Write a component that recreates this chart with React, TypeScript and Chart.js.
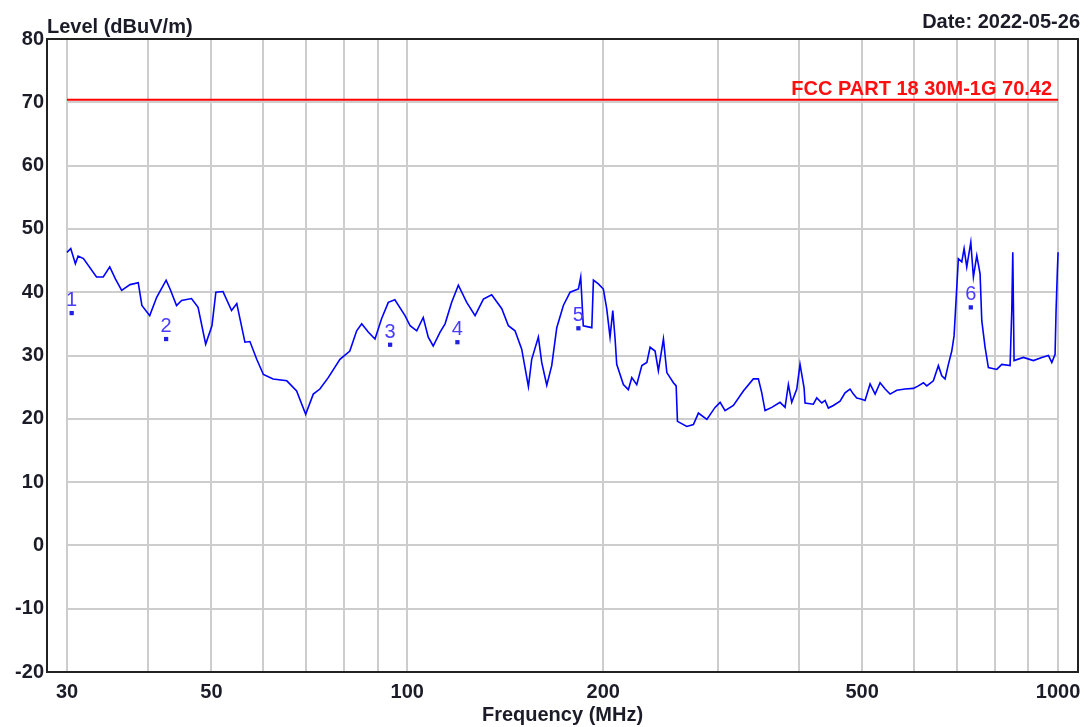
import React, { useEffect, useRef } from 'react';
import { Chart, registerables } from 'chart.js';

Chart.register(...registerables);

const FONT = '"Liberation Sans", Arial, Helvetica, sans-serif';

// Measured trace (frequency in MHz, level in dBuV/m)
const freqMHz = [30, 30.4, 30.9, 31.2, 31.8, 33.3, 34.1, 34.9, 35.6, 36.4, 37.5, 38.6, 39.1, 40.2, 41.2, 42.6, 43.2, 44.2, 45.0, 46.6, 47.7, 49.0, 50.1, 50.8, 52.1, 53.7, 54.7, 56.3, 57.3, 58.7, 60.1, 62.2, 65.3, 67.6, 69.8, 71.7, 73.4, 75.6, 78.8, 81.6, 83.6, 85.1, 87.1, 89.2, 91.3, 93.5, 95.7, 99.2, 101.0, 103.4, 105.8, 107.7, 109.6, 112.3, 114.3, 117.0, 119.8, 123.4, 127.1, 130.9, 134.8, 139.7, 143.0, 146.4, 149.9, 153.5, 155.3, 159.0, 160.9, 163.8, 166.7, 169.7, 173.7, 177.9, 183.2, 184.7, 186.4, 192.1, 193.2, 196.6, 200.1, 202.5, 204.9, 206.9, 208.6, 209.8, 214.8, 218.6, 221.3, 225.2, 229.3, 233.4, 236.1, 240.3, 243.1, 247.5, 250.5, 256.4, 258.9, 260.1, 268.8, 275.2, 280.1, 288.6, 297.1, 302.5, 307.8, 317.0, 328.4, 340.2, 346.3, 350.5, 354.6, 363.1, 373.9, 380.6, 385.1, 389.7, 396.7, 401.3, 407.1, 408.5, 420.7, 425.8, 433.4, 438.5, 443.6, 451.6, 462.4, 470.6, 479.0, 484.7, 490.5, 499.3, 505.1, 514.2, 523.4, 532.7, 542.3, 551.9, 565.1, 581.9, 599.3, 610.0, 620.9, 628.4, 643.2, 654.7, 662.6, 670.4, 678.3, 686.5, 692.1, 698.8, 702.7, 711.2, 717.1, 723.9, 734.3, 741.1, 750.0, 758.8, 763.4, 772.4, 781.4, 805.0, 819.4, 843.8, 848.9, 851.9, 855.8, 884.4, 916.3, 944.0, 966.3, 978.0, 989.4, 992.9, 997.5, 1000];
const levelDb = [46.3, 46.9, 44.5, 45.7, 45.3, 42.4, 42.4, 44.0, 42.1, 40.3, 41.2, 41.5, 37.9, 36.3, 39.2, 41.9, 40.5, 37.9, 38.7, 39.0, 37.6, 31.8, 34.7, 40.0, 40.1, 37.1, 38.2, 32.1, 32.2, 29.4, 27.0, 26.3, 26.0, 24.4, 20.7, 23.9, 24.7, 26.5, 29.4, 30.7, 33.9, 35.0, 33.7, 32.6, 35.8, 38.4, 38.8, 36.3, 34.7, 33.9, 36.0, 32.9, 31.5, 33.7, 35.0, 38.4, 41.1, 38.4, 36.3, 38.9, 39.6, 37.4, 34.7, 33.9, 31.0, 25.1, 29.4, 32.9, 28.9, 25.3, 28.4, 34.4, 37.9, 40.0, 40.5, 42.4, 34.7, 34.4, 41.9, 41.3, 40.5, 37.4, 32.9, 37.1, 32.6, 28.6, 25.4, 24.6, 26.5, 25.4, 28.4, 28.9, 31.3, 30.7, 27.6, 32.6, 27.3, 25.7, 25.2, 19.6, 18.8, 19.1, 20.9, 19.9, 21.8, 22.6, 21.3, 22.1, 24.4, 26.3, 26.3, 24.1, 21.3, 21.8, 22.6, 21.8, 25.4, 22.6, 24.7, 28.6, 24.9, 22.5, 22.3, 23.3, 22.5, 22.9, 21.7, 22.1, 22.8, 24.1, 24.7, 23.9, 23.3, 23.1, 22.9, 25.5, 23.9, 25.7, 24.7, 23.9, 24.5, 24.7, 24.8, 25.2, 25.7, 25.2, 26.0, 28.4, 26.8, 26.3, 28.6, 30.7, 33.1, 40.8, 45.3, 44.8, 46.9, 44.0, 47.9, 42.4, 45.8, 42.9, 35.5, 31.3, 28.1, 27.8, 28.6, 28.4, 37.1, 46.3, 29.2, 29.7, 29.2, 29.7, 30.0, 28.9, 30.2, 37.1, 43.4, 46.3];

// Markers
const markerNames = ['1', '2', '3', '4', '5', '6'];
const markerFreq = [30.5, 42.6, 94.1, 119.4, 183.2, 734.3];
const markerLevel = [36.7, 32.6, 31.7, 32.1, 34.3, 37.6];

// Limit line
const limitName = 'FCC PART 18 30M-1G 70.42';
const limitFreq = [30, 1000];
const limitLevel = [70.42, 70.42];

// Axes
const xGridValues = [30, 40, 50, 60, 70, 80, 90, 100, 200, 300, 400, 500, 600, 700, 800, 900, 1000];
const xLabelValues = [30, 50, 100, 200, 500, 1000];
const xRange = [27.95, 1073];
const yTickValues = [-20, -10, 0, 10, 20, 30, 40, 50, 60, 70, 80];
const yRange = [-20, 80];

const yTitle = 'Level (dBuV/m)';
const xTitle = 'Frequency (MHz)';
const dateText = 'Date: 2022-05-26';

const decoPlugin = {
  id: 'deco',
  beforeDatasetsDraw(chart: any) {
    const { ctx, scales } = chart;
    const x = scales.x;
    const y = scales.y;
    ctx.save();
    ctx.strokeStyle = '#cdcdcd';
    ctx.lineWidth = 2;
    const x0 = x.getPixelForValue(limitFreq[0]);
    const x1 = x.getPixelForValue(limitFreq[1]);
    yTickValues.forEach((v) => {
      const py = Math.round(y.getPixelForValue(v));
      ctx.beginPath();
      ctx.moveTo(x0, py);
      ctx.lineTo(x1, py);
      ctx.stroke();
    });
    ctx.restore();
  },
  afterDraw(chart: any) {
    const { ctx, chartArea, scales } = chart;
    const x = scales.x;
    const y = scales.y;
    ctx.save();
    // frame
    ctx.strokeStyle = '#222222';
    ctx.lineWidth = 2;
    ctx.strokeRect(chartArea.left, chartArea.top, chartArea.right - chartArea.left, chartArea.bottom - chartArea.top);

    // titles
    ctx.fillStyle = '#1c1c28';
    ctx.font = `bold 20px ${FONT}`;
    ctx.textBaseline = 'alphabetic';
    ctx.textAlign = 'left';
    ctx.fillText(yTitle, chartArea.left, 33);
    ctx.textAlign = 'right';
    ctx.fillText(dateText, 1080, 28);
    ctx.textAlign = 'center';
    ctx.fillText(xTitle, (chartArea.left + chartArea.right) / 2, 721);

    // limit label
    ctx.fillStyle = '#ff1010';
    ctx.textAlign = 'right';
    ctx.fillText(limitName, x.getPixelForValue(limitFreq[1]) - 6, y.getPixelForValue(limitLevel[1]) - 5);

    // marker labels
    ctx.fillStyle = '#4a3cff';
    ctx.font = `20px ${FONT}`;
    ctx.textAlign = 'center';
    markerNames.forEach((n, i) => {
      const px = x.getPixelForValue(markerFreq[i]);
      const py = y.getPixelForValue(markerLevel[i]);
      ctx.fillText(n, px, py - 7);
    });
    ctx.restore();
  },
};

export default function App() {
  const ref = useRef<HTMLCanvasElement | null>(null);

  useEffect(() => {
    document.body.style.margin = '0';
    document.body.style.overflow = 'hidden';
    const canvas = ref.current;
    if (!canvas) return;
    const n = Math.min(freqMHz.length, levelDb.length);
    const trace = [] as { x: number; y: number }[];
    for (let i = 0; i < n; i++) trace.push({ x: freqMHz[i], y: levelDb[i] });
    const limit = limitFreq.map((f, i) => ({ x: f, y: limitLevel[i] }));
    const markers = markerFreq.map((f, i) => ({ x: f, y: markerLevel[i] }));

    const chart = new Chart(canvas, {
      type: 'line',
      data: {
        datasets: [
          {
            label: limitName,
            data: limit,
            borderColor: '#ff0000',
            borderWidth: 2,
            pointRadius: 0,
            tension: 0,
          },
          {
            label: 'Trace',
            data: trace,
            borderColor: '#0000ff',
            borderWidth: 1.6,
            pointRadius: 0,
            tension: 0,
          },
          {
            type: 'scatter' as any,
            label: 'Markers',
            data: markers,
            showLine: false,
            pointStyle: 'rect',
            pointRadius: 3,
            backgroundColor: '#2020e0',
            borderColor: '#2020e0',
            borderWidth: 0,
          } as any,
        ],
      },
      options: {
        animation: false,
        responsive: false,
        events: [],
        layout: { padding: { left: 0, top: 39, right: 11, bottom: 0 } },
        plugins: {
          legend: { display: false },
          tooltip: { enabled: false },
          title: { display: false },
        },
        scales: {
          x: {
            type: 'logarithmic',
            min: xRange[0],
            max: xRange[1],
            bounds: 'data',
            afterBuildTicks: (s: any) => {
              s.ticks = xGridValues.map((v) => ({ value: v }));
            },
            afterFit: (s: any) => {
              s.height = 55;
              s.paddingLeft = 0;
              s.paddingRight = 0;
            },
            grid: { color: '#cdcdcd', lineWidth: 2, drawTicks: false },
            border: { display: false },
            ticks: {
              autoSkip: false,
              maxRotation: 0,
              padding: 8,
              color: '#1c1c28',
              font: { family: FONT, size: 20, weight: 'bold' },
              callback: (v: any) => (xLabelValues.includes(Number(v)) ? String(v) : ''),
            },
          },
          y: {
            type: 'linear',
            min: yRange[0],
            max: yRange[1],
            afterBuildTicks: (s: any) => {
              s.ticks = yTickValues.map((v) => ({ value: v }));
            },
            afterFit: (s: any) => {
              s.width = 47;
              s.paddingTop = 0;
              s.paddingBottom = 0;
            },
            grid: { display: false, drawTicks: false },
            border: { display: false },
            ticks: {
              padding: 3,
              color: '#1c1c28',
              font: { family: FONT, size: 20, weight: 'bold' },
            },
          },
        },
      },
      plugins: [decoPlugin],
    } as any);

    return () => chart.destroy();
  }, []);

  return (
    <div style={{ width: 1089, height: 727, background: '#ffffff' }}>
      <canvas ref={ref} width={1089} height={727} style={{ display: 'block' }} />
    </div>
  );
}
